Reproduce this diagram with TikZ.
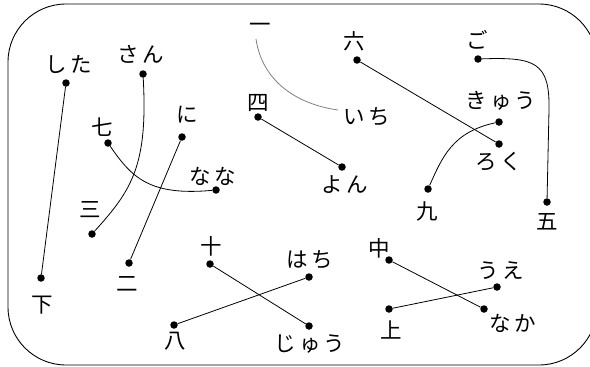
\documentclass[tikz,border=0pt]{standalone}
\usepackage{fontspec}
\setmainfont{Noto Sans CJK JP}
\newfontfamily\jpfont[LetterSpace=14]{Noto Sans CJK JP}

\begin{document}
\begin{tikzpicture}[x=1pt, y=-1pt,
	dot/.style={circle, fill=black, inner sep=0pt, minimum size=7.5pt},
	word/.style={inner sep=0pt, font=\jpfont\fontsize{21.5}{21.5}\selectfont},
	link/.style={line width=0.8pt}]
	\useasboundingbox (0,0) rectangle (590,367);
	\clip (0,0) rectangle (590,367);
	\draw[line width=0.9pt, rounded corners=58pt] (8,4) rectangle (597,365);
	% kanji and kana
	\node[word] (tShita) at (69,65) {した};
	\node[word] (tShita2) at (42,305) {下};
	\node[word] (tSan) at (141,54) {さん};
	\node[word] (tSan2) at (90,210) {三};
	\node[word] (tNana2) at (102,127) {七};
	\node[word] (tNana) at (213,176) {なな};
	\node[word] (tNi) at (187,115) {に};
	\node[word] (tNi2) at (127,284) {二};
	\node[word] (tIchi2) at (260,28) {一};
	\node[word] (tIchi) at (367,117) {いち};
	\node[word] (tYon2) at (258,103) {四};
	\node[word] (tYon) at (345,185) {よん};
	\node[word] (tRoku2) at (354,41) {六};
	\node[word] (tRoku) at (499,162) {ろく};
	\node[word] (tGo) at (477,40) {ご};
	\node[word] (tGo2) at (547,222) {五};
	\node[word] (tKyu) at (501,101) {きゅう};
	\node[word] (tKyu2) at (427,211) {九};
	\node[word] (tJu2) at (211,246) {十};
	\node[word] (tJu) at (310,344) {じゅう};
	\node[word] (tHachi) at (310,260) {はち};
	\node[word] (tHachi2) at (175,341) {八};
	\node[word] (tNaka2) at (379,248) {中};
	\node[word] (tNaka) at (513,323) {なか};
	\node[word] (tUe) at (501,271) {うえ};
	\node[word] (tUe2) at (391,330) {上};
	% dots
	\node[dot] (dShita) at (66,83) {};
	\node[dot] (dShita2) at (41,278) {};
	\node[dot] (dSan) at (143,74) {};
	\node[dot] (dSan2) at (92,234) {};
	\node[dot] (dNana2) at (108,143) {};
	\node[dot] (dNana) at (216,190) {};
	\node[dot] (dNi) at (182,137) {};
	\node[dot] (dNi2) at (129,263) {};
	\node[dot] (dYon2) at (258,117) {};
	\node[dot] (dYon) at (342,167) {};
	\node[dot] (dRoku2) at (357,60) {};
	\node[dot] (dRoku) at (499,144) {};
	\node[dot] (dGo) at (478,59) {};
	\node[dot] (dGo2) at (547,202) {};
	\node[dot] (dKyu) at (499,122) {};
	\node[dot] (dKyu2) at (428,189) {};
	\node[dot] (dJu2) at (210,264) {};
	\node[dot] (dJu) at (309,326) {};
	\node[dot] (dHachi) at (309,277) {};
	\node[dot] (dHachi2) at (174,325) {};
	\node[dot] (dNaka2) at (389,260) {};
	\node[dot] (dNaka) at (484,309) {};
	\node[dot] (dUe) at (497,287) {};
	\node[dot] (dUe2) at (389,309) {};
	\coordinate (ichiA) at (256,39);
	\coordinate (ichiB) at (338,110);
	% pairs
	\draw[link] (dShita) -- (dShita2);
	\draw[link] (dSan) .. controls (148,165) and (132,190) .. (dSan2);
	\draw[link] (dNana2) .. controls (132,178) and (150,196) .. (dNana);
	\draw[link] (dNi) -- (dNi2);
	\draw[link, gray] (ichiA) .. controls (262,80) and (295,104) .. (ichiB);
	\draw[link] (dYon2) -- (dYon);
	\draw[link] (dRoku2) -- (dRoku);
	\draw[link] (dGo) .. controls (535,57) and (550,62) .. (549,110) -- (dGo2);
	\draw[link] (dKyu2) .. controls (442,158) and (452,132) .. (dKyu);
	\draw[link] (dJu2) -- (dJu);
	\draw[link] (dHachi) -- (dHachi2);
	\draw[link] (dNaka2) -- (dNaka);
	\draw[link] (dUe) -- (dUe2);
\end{tikzpicture}
\end{document}
